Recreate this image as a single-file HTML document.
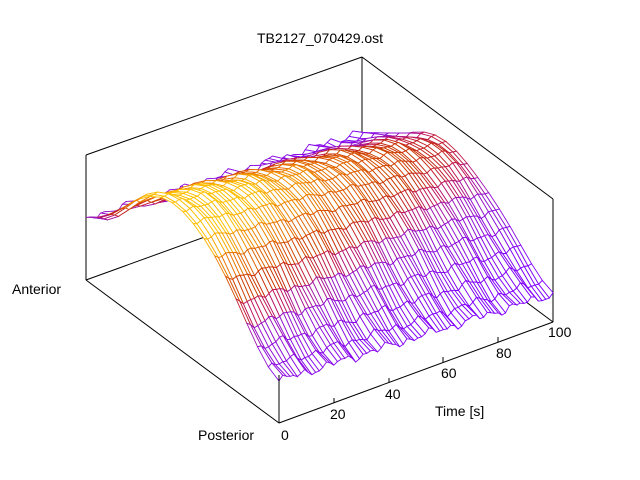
<!DOCTYPE html>
<html><head><meta charset="utf-8"><style>
html,body{margin:0;padding:0;background:#fff;}
svg{display:block;font-family:"Liberation Sans",sans-serif;}
</style></head><body>
<svg id="s" width="640" height="480" viewBox="0 0 640 480" xmlns="http://www.w3.org/2000/svg">
<rect width="640" height="480" fill="#fff"/>
<g stroke="#000" stroke-width="1" fill="none" id="back">
<line x1="86" y1="155" x2="86" y2="280"/>
<line x1="86" y1="155" x2="362" y2="57"/>
<line x1="362" y1="57" x2="553" y2="199"/>
<line x1="362" y1="57" x2="362" y2="180"/>
<line x1="553" y1="199" x2="553" y2="322"/>
<line x1="86" y1="280" x2="362" y2="180"/>
<line x1="362" y1="180" x2="553" y2="322"/>
</g>
<g id="mesh"></g>
<g stroke="#000" stroke-width="1" fill="none">
<line x1="86" y1="280" x2="279" y2="423"/>
<line x1="279" y1="423" x2="553" y2="322"/>
<line x1="279" y1="423" x2="279" y2="375"/>
<line x1="334" y1="403" x2="334" y2="398"/>
<line x1="389" y1="383" x2="389" y2="378"/>
<line x1="443" y1="362" x2="443" y2="357"/>
<line x1="498" y1="342" x2="498" y2="337"/>
</g>
<g font-size="14" fill="#000">
<text x="320" y="43" text-anchor="middle">TB2127_070429.ost</text>
<text x="12" y="294">Anterior</text>
<text x="198" y="440">Posterior</text>
<text x="281" y="440">0</text>
<text x="330" y="419">20</text>
<text x="385" y="399">40</text>
<text x="441" y="378">60</text>
<text x="496" y="358">80</text>
<text x="548" y="337">100</text>
<text x="435" y="416">Time [s]</text>
</g>
</svg>
<script>
(function(){
var NT=75,NP=18;
function H(t,p){
 var base=42-14*t+16*p;
 var A=92-28*t;
 var c=Math.cos(Math.PI*(p-0.52)/1.04);
 var g=Math.pow(Math.max(0,c),1.6);
 var n=2.5*Math.sin(t*83+p*9)+2*Math.sin(t*37-p*17)+1.5*Math.sin(t*151+p*5);
 return base+A*g+n*(1-0.5*g);
}
function P(t,p){var h=H(t,p);return [279+274*t-193*p,423-101*t-143*p-h,h];}
var stops=[[0,[127,0,255]],[0.4,[150,20,200]],[0.52,[190,20,90]],[0.64,[200,50,0]],[0.82,[232,112,0]],[1,[255,192,0]]];
function col(c){c=Math.max(0,Math.min(1,c));for(var i=1;i<stops.length;i++){if(c<=stops[i][0]){var a=stops[i-1],b=stops[i],f=(c-a[0])/(b[0]-a[0]);return 'rgb('+[0,1,2].map(function(k){return Math.round(a[1][k]+(b[1][k]-a[1][k])*f)}).join(',')+')';}}return 'rgb(255,192,0)';}
var q=[];
for(var i=0;i<NT;i++)for(var j=0;j<NP;j++){
 var t0=i/NT,t1=(i+1)/NT,p0=j/NP,p1=(j+1)/NP;
 q.push({d:t0+t1+p0+p1,t0:t0,t1:t1,p0:p0,p1:p1});
}
q.sort(function(a,b){return b.d-a.d;});
var s='';
q.forEach(function(o){
 var a=P(o.t0,o.p0),b=P(o.t1,o.p0),c=P(o.t1,o.p1),d=P(o.t0,o.p1);
 var h=(a[2]+b[2]+c[2]+d[2])/4, tm=(o.t0+o.t1)/2;
 var cc=(h-35)/105+0.18*(0.5-tm)+0.03;
 s+='<path d="M'+a[0].toFixed(1)+' '+a[1].toFixed(1)+'L'+b[0].toFixed(1)+' '+b[1].toFixed(1)+'L'+c[0].toFixed(1)+' '+c[1].toFixed(1)+'L'+d[0].toFixed(1)+' '+d[1].toFixed(1)+'Z" fill="#fff" stroke="'+col(cc)+'" stroke-width="0.9"/>';
});
document.getElementById('mesh').innerHTML=s;
})();
</script>
</body></html>
